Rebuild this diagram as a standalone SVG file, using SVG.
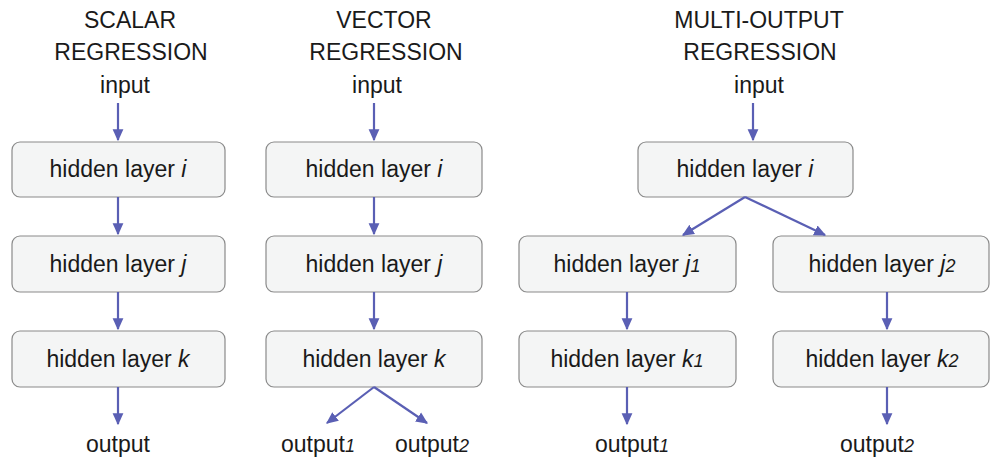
<svg xmlns="http://www.w3.org/2000/svg" width="990" height="458" viewBox="0 0 990 458">
<defs>
<marker id="ah" viewBox="0 0 10 10" refX="9" refY="5" markerWidth="12" markerHeight="12" orient="auto" markerUnits="userSpaceOnUse">
<path d="M0,0.5 L10,5 L0,9.5 z" fill="#5a5fb4"/>
</marker>
<style>
text{font-family:"Liberation Sans",Arial,sans-serif;font-size:23px;fill:#1a1a1a;text-anchor:middle}
.box{fill:#f4f5f5;stroke:#8a8a8a;stroke-width:1.2}
.c{stroke:#5a5fb4;stroke-width:2.2;fill:none;marker-end:url(#ah)}
.i{font-style:italic}
.s{font-style:italic;font-size:18px}
</style>
</defs>
<rect width="990" height="458" fill="#fff"/>
<g id="titles">
<text x="130" y="28">SCALAR</text>
<text x="131" y="60">REGRESSION</text>
<text x="384" y="28">VECTOR</text>
<text x="386" y="60">REGRESSION</text>
<text x="759" y="28">MULTI-OUTPUT</text>
<text x="760" y="60">REGRESSION</text>
</g>
<g id="inputs">
<text x="125" y="93">input</text>
<text x="377" y="93">input</text>
<text x="759" y="93">input</text>
</g>
<g id="s_i"><rect class="box" x="12" y="142" width="213" height="55" rx="8"/><text x="118" y="177">hidden layer <tspan class="i">i</tspan></text></g>
<g id="s_j"><rect class="box" x="12" y="236" width="213" height="56" rx="8"/><text x="118" y="272">hidden layer <tspan class="i">j</tspan></text></g>
<g id="s_k"><rect class="box" x="12" y="331" width="213" height="56" rx="8"/><text x="118" y="367">hidden layer <tspan class="i">k</tspan></text></g>
<g id="s_out"><text x="118" y="452">output</text></g>
<g id="v_i"><rect class="box" x="266" y="142" width="216" height="55" rx="8"/><text x="374" y="177">hidden layer <tspan class="i">i</tspan></text></g>
<g id="v_j"><rect class="box" x="266" y="236" width="216" height="56" rx="8"/><text x="374" y="272">hidden layer <tspan class="i">j</tspan></text></g>
<g id="v_k"><rect class="box" x="266" y="331" width="216" height="56" rx="8"/><text x="374" y="367">hidden layer <tspan class="i">k</tspan></text></g>
<g id="v_out1"><text x="318" y="452">output<tspan class="s">1</tspan></text></g>
<g id="v_out2"><text x="432" y="452">output<tspan class="s">2</tspan></text></g>
<g id="m_i"><rect class="box" x="638" y="142" width="215" height="55" rx="8"/><text x="745" y="177">hidden layer <tspan class="i">i</tspan></text></g>
<g id="m_j1"><rect class="box" x="519" y="236" width="217" height="56" rx="8"/><text x="627" y="272">hidden layer <tspan class="i">j</tspan><tspan class="s">1</tspan></text></g>
<g id="m_j2"><rect class="box" x="773" y="236" width="216" height="56" rx="8"/><text x="882" y="272">hidden layer <tspan class="i">j</tspan><tspan class="s">2</tspan></text></g>
<g id="m_k1"><rect class="box" x="519" y="331" width="217" height="56" rx="8"/><text x="627" y="367">hidden layer <tspan class="i">k</tspan><tspan class="s">1</tspan></text></g>
<g id="m_k2"><rect class="box" x="773" y="331" width="216" height="56" rx="8"/><text x="882" y="367">hidden layer <tspan class="i">k</tspan><tspan class="s">2</tspan></text></g>
<g id="m_out1"><text x="632" y="452">output<tspan class="s">1</tspan></text></g>
<g id="m_out2"><text x="877" y="452">output<tspan class="s">2</tspan></text></g>
<g id="connectors">
<path class="c" d="M118,103 V140"/>
<path class="c" d="M118,197 V234"/>
<path class="c" d="M118,292 V329"/>
<path class="c" d="M118,387 V424"/>
<path class="c" d="M374,103 V140"/>
<path class="c" d="M374,197 V234"/>
<path class="c" d="M374,292 V329"/>
<path class="c" d="M374,387 L327,423"/>
<path class="c" d="M374,387 L427,423"/>
<path class="c" d="M753,103 V140"/>
<path class="c" d="M745,197 L683,235"/>
<path class="c" d="M745,197 L825,235"/>
<path class="c" d="M627,292 V329"/>
<path class="c" d="M887,292 V329"/>
<path class="c" d="M627,387 V424"/>
<path class="c" d="M887,387 V424"/>
</g>
</svg>
